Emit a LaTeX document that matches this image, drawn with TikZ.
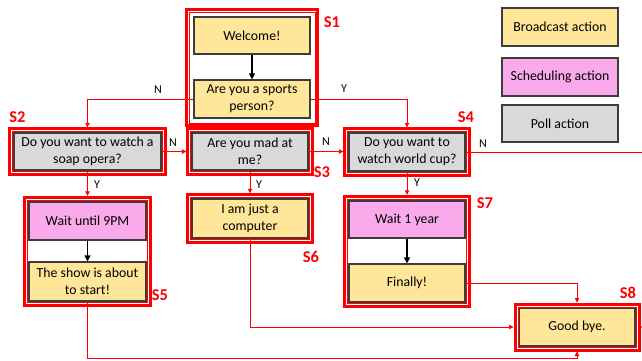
\documentclass[tikz,border=0pt]{standalone}
\usepackage{fontspec}
\setmainfont{Carlito}
\usetikzlibrary{arrows.meta,fit}

\definecolor{bcast}{RGB}{255,230,153}
\definecolor{sched}{RGB}{250,170,234}
\definecolor{pollgray}{RGB}{217,217,217}
\definecolor{stred}{RGB}{255,0,0}
\definecolor{edgegray}{RGB}{60,60,60}

\tikzset{
  action/.style={draw=edgegray, line width=1.2pt, minimum width=116pt,
    minimum height=37pt, align=center, inner sep=1pt,
    font=\fontsize{13.8}{17}\selectfont},
  bcastbox/.style={action, fill=bcast},
  schedbox/.style={action, fill=sched},
  pollbox/.style={action, fill=pollgray},
  stateframe/.style={draw=stred, line width=3pt, inner sep=#1,
    path picture={\draw[stred, line width=0.8pt]
      ([shift={(2.9pt,-2.9pt)}]path picture bounding box.north west) rectangle
      ([shift={(-2.9pt,2.9pt)}]path picture bounding box.south east);}},
  statelabel/.style={text=stred, inner sep=0pt,
    font=\bfseries\fontsize{16.5}{16.5}\selectfont},
  flow/.style={draw=stred, line width=0.9pt,
    -{Triangle[length=4.5pt,width=4.5pt]}},
  seq/.style={draw=black, line width=1.2pt,
    -{Triangle[length=6pt,width=6pt]}},
  choice/.style={inner sep=0pt, font=\fontsize{12}{12}\selectfont},
}

\begin{document}
\begin{tikzpicture}[x=1pt, y=-1pt]
  \useasboundingbox (0,0) rectangle (642,360);
  \fill[white] (0,0) rectangle (642,360);
  \clip (0,0) rectangle (642,360);

  % action boxes
  \node[bcastbox] (welcome) at (252,35.5) {Welcome!};
  \node[bcastbox, minimum height=38pt] (sports) at (252,99) {Are you a sports\\person?};
  \node[pollbox, minimum width=147pt] (soap) at (87.5,151.5) {Do you want to watch a\\soap opera?};
  \node[pollbox] (mad) at (250,151.5) {Are you mad at\\me?};
  \node[pollbox, minimum height=38pt] (world) at (407,152) {Do you want to\\watch world cup?};
  \node[schedbox, minimum width=117pt, minimum height=38pt] (wait9) at (87.5,221) {Wait until 9PM};
  \node[bcastbox, minimum width=117pt, minimum height=39pt] (show) at (87.5,281.5) {The show is about\\to start!};
  \node[bcastbox, minimum height=39pt] (comp) at (250,218.5) {I am just a\\computer};
  \node[schedbox] (wait1) at (407,219.5) {Wait 1 year};
  \node[bcastbox, minimum height=38pt] (fin) at (407,283) {Finally!};
  \node[bcastbox, minimum height=38pt] (bye) at (577,327) {Good bye.};

  % legend
  \node[bcastbox, minimum height=38pt] (legb) at (560,27) {Broadcast action};
  \node[schedbox, minimum height=38pt] (legs) at (560,77) {Scheduling action};
  \node[pollbox] (legp) at (560,123.5) {Poll action};

  % state frames
  \node[stateframe=7.3pt, fit=(welcome)(sports)] (f1) {};
  \node[stateframe=3.6pt, fit=(soap)] (f2) {};
  \node[stateframe=3.6pt, fit=(mad)] (f3) {};
  \node[stateframe=3.6pt, fit=(world)] (f4) {};
  \node[stateframe=4.1pt, fit=(wait9)(show)] (f5) {};
  \node[stateframe=3.6pt, fit=(comp)] (f6) {};
  \node[stateframe=4.1pt, fit=(wait1)(fin)] (f7) {};
  \node[stateframe=3.4pt, fit=(bye)] (f8) {};

  % state labels
  \node[statelabel] (s1) at (332,22) {S1};
  \node[statelabel] (s2) at (17.5,117) {S2};
  \node[statelabel] (s3) at (322,172) {S3};
  \node[statelabel] (s4) at (466,117) {S4};
  \node[statelabel] (s5) at (160,295) {S5};
  \node[statelabel] (s6) at (311,257) {S6};
  \node[statelabel] (s7) at (485,203) {S7};
  \node[statelabel] (s8) at (628,293) {S8};

  % steps inside a state
  \draw[seq] (welcome.south) -- (sports.north);
  \draw[seq] (wait9.south) -- (show.north);
  \draw[seq] (wait1.south) -- (fin.north);

  % transitions between states
  \coordinate (offright) at (660,0);
  \coordinate (bottomrun) at (0,358);
  \draw[flow] (sports.west) -| (f2.north);
  \draw[flow] (sports.east) -| (f4.north);
  \draw[flow] (soap.east) -- (soap.east -| f3.west);
  \draw[flow] (mad.east) -- (mad.east -| f4.west);
  \draw[flow] (world.east) -- (world.east -| offright) |- (f8.east);
  \draw[flow] (soap.south) -- (soap.south |- f5.north);
  \draw[flow] (mad.south) -- (mad.south |- f6.north);
  \draw[flow] (world.south) -- (world.south |- f7.north);
  \draw[flow] (fin.east) -| (f8.north);
  \draw[flow] (comp.south) |- (f8.west);
  \draw[flow] (show.south) -- (show.south |- bottomrun) -| (f8.south);

  % answer labels
  \node[choice] (n1) at (158,90) {N};
  \node[choice] (y1) at (344,89) {Y};
  \node[choice] (n2) at (173,143) {N};
  \node[choice] (n3) at (326,142) {N};
  \node[choice] (n4) at (483,144) {N};
  \node[choice] (y2) at (97,185) {Y};
  \node[choice] (y3) at (259,185) {Y};
  \node[choice] (y4) at (417,183) {Y};
\end{tikzpicture}
\end{document}
